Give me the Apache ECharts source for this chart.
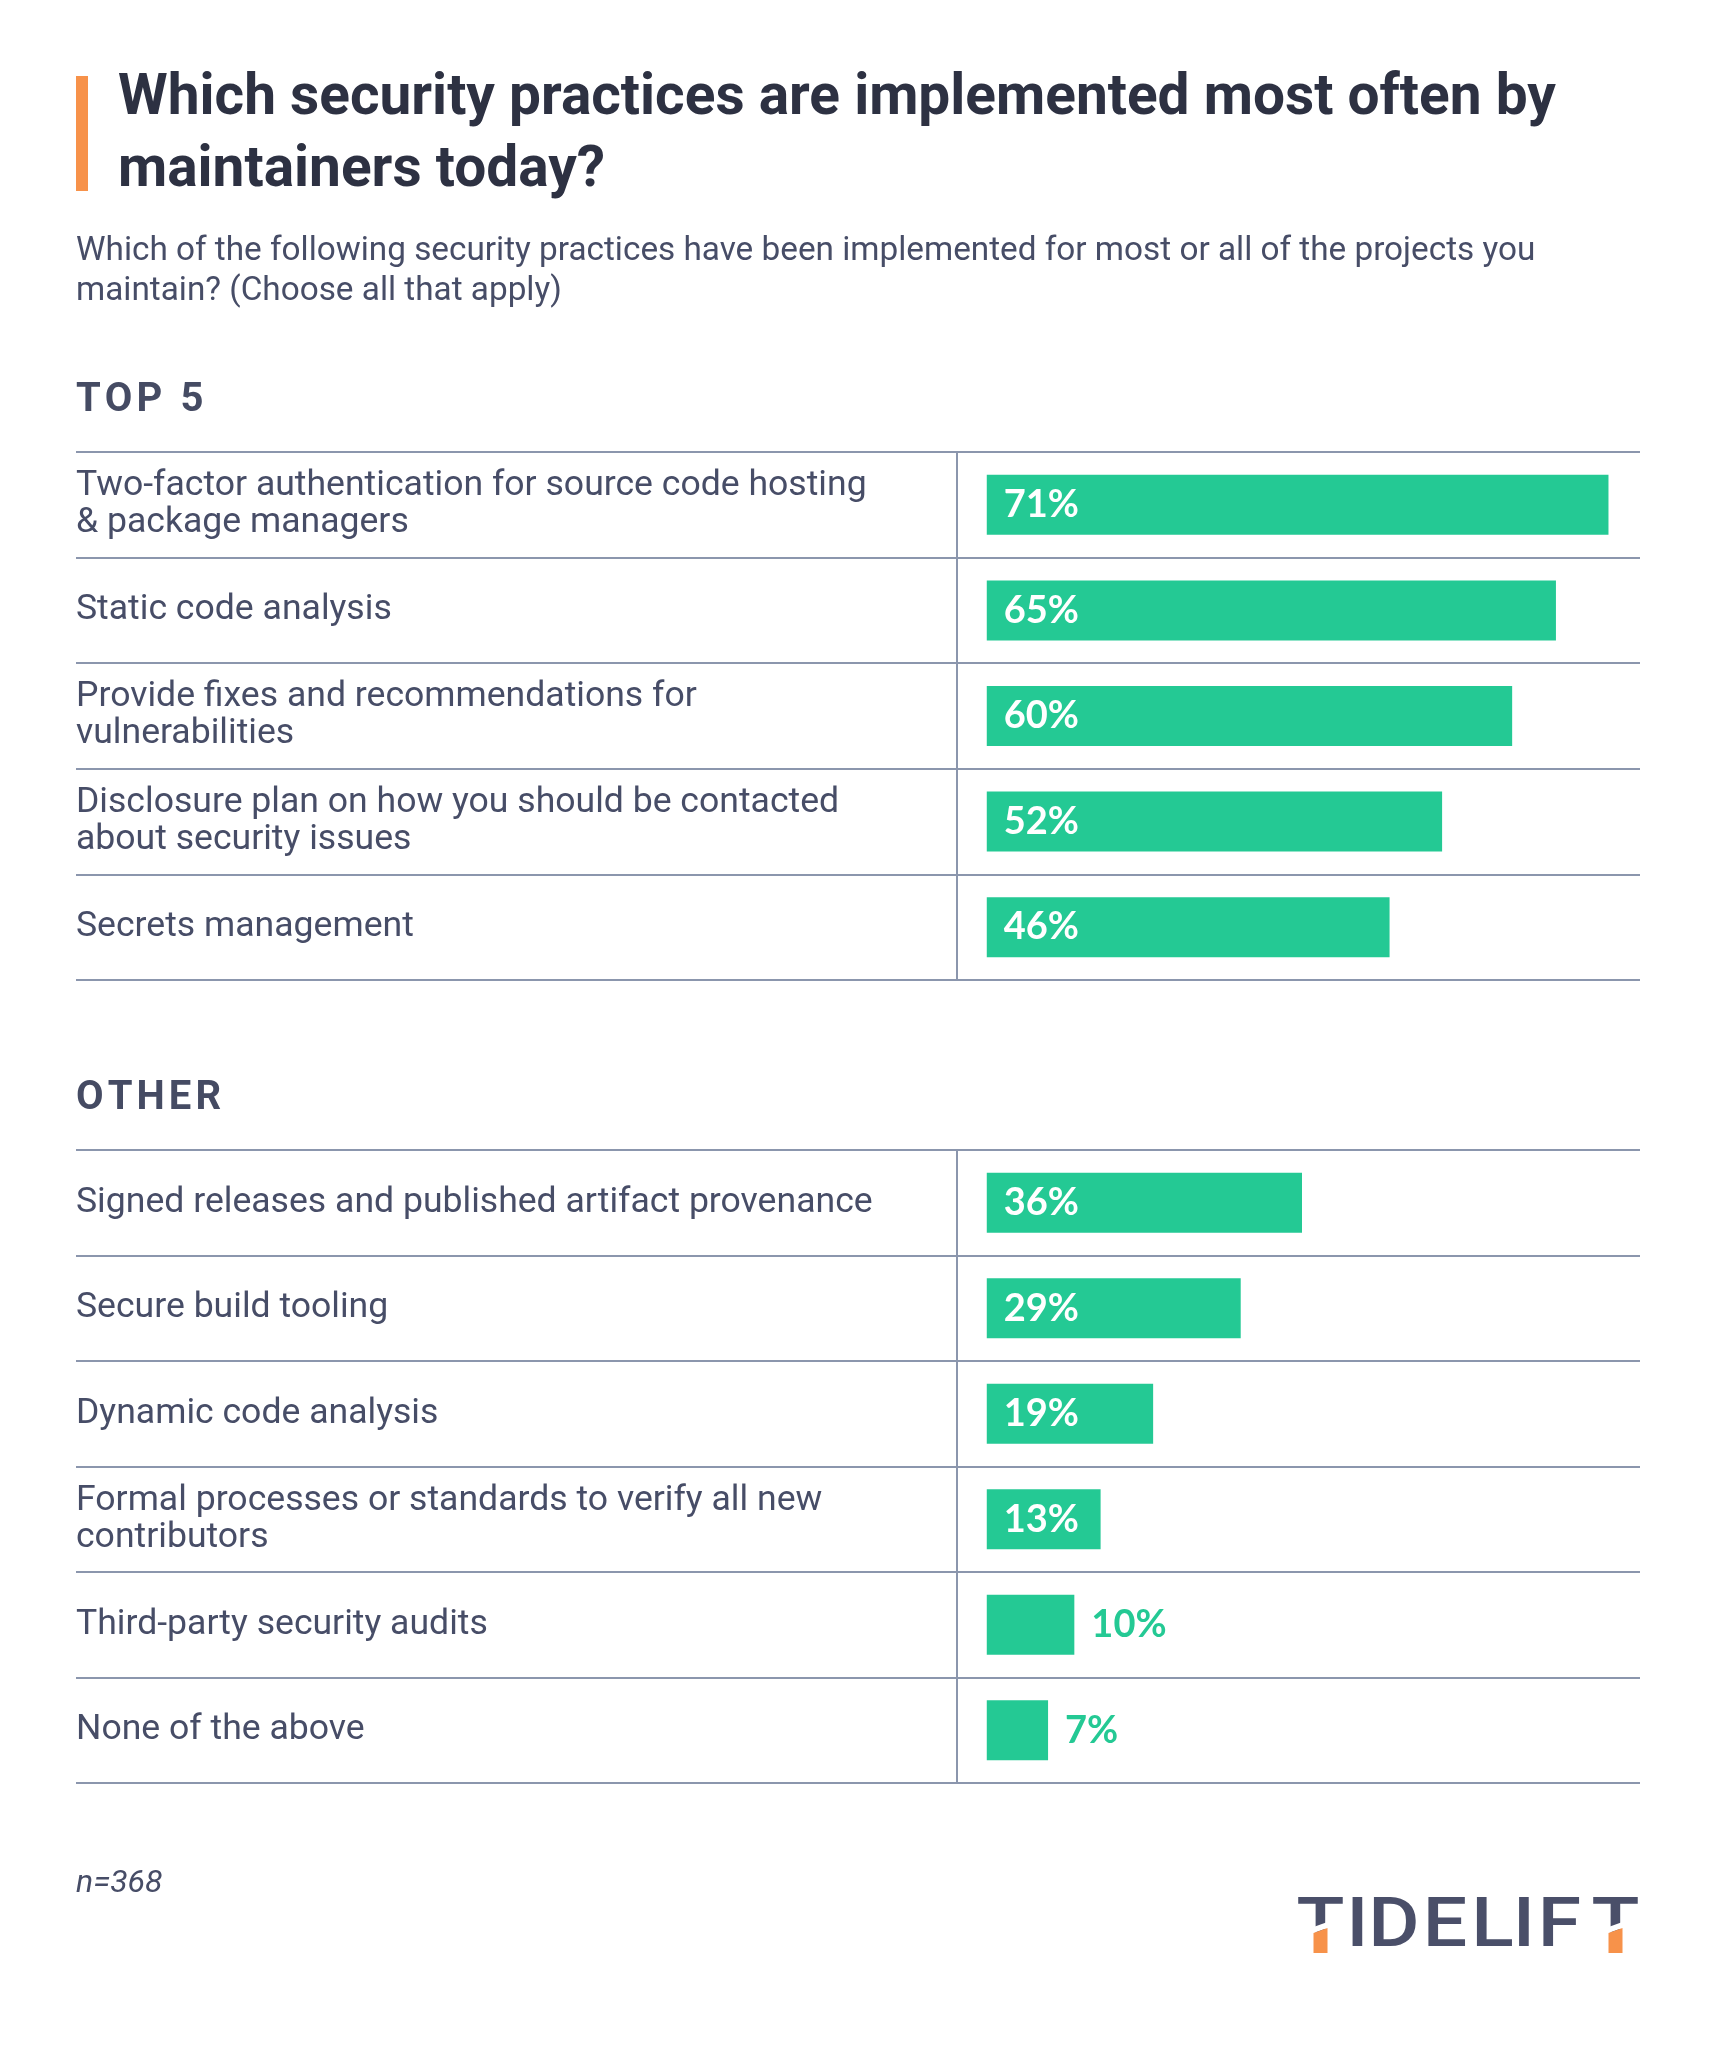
<!DOCTYPE html>
<html><head><meta charset="utf-8">
<script src="https://cdn.jsdelivr.net/npm/echarts@6.0.0/dist/echarts.min.js"></script>
<style>html,body{margin:0;padding:0;background:#fff}#c{width:1734px;height:2054px}</style>
</head><body><div id="c"></div>
<script>
const titleText = 'Which security practices are implemented most often by\nmaintainers today?';
const subtitleText = 'Which of the following security practices have been implemented for most or all of the projects you\nmaintain? (Choose all that apply)';
const topHeading = 'T\u200AO\u200AP\u200A \u200A5';
const otherHeading = 'O\u200AT\u200AH\u200AE\u200AR';
const noteText = 'n=368';
const logoLetters = ['T','I','D','E','L','I','F','T'];

const topCategories = [
  'Two-factor authentication for source code hosting\n& package managers',
  'Static code analysis',
  'Provide fixes and recommendations for\nvulnerabilities',
  'Disclosure plan on how you should be contacted\nabout security issues',
  'Secrets management'
];
const topValues = [71, 65, 60, 52, 46];

const otherCategories = [
  'Signed releases and published artifact provenance',
  'Secure build tooling',
  'Dynamic code analysis',
  'Formal processes or standards to verify all new\ncontributors',
  'Third-party security audits',
  'None of the above'
];
const otherValues = [36, 29, 19, 13, 10, 7];

const GREEN = '#24c994', LINE = '#8b96ad', LABEL = '#474d67', TITLE = '#2d3142',
      HEAD = '#454b63', ORANGE = '#f7924a', LOGO = '#4a4f69';
const FONT = 'Roboto';

function yAxisFor(gridIndex, cats) {
  return {
    type: 'category', gridIndex: gridIndex, data: cats, inverse: true,
    axisLine: { show: true, onZero: false, lineStyle: { color: LINE, width: 2 } },
    axisTick: { show: true, length: 881, lineStyle: { color: LINE, width: 2 } },
    splitLine: { show: true, lineStyle: { color: LINE, width: 2 } },
    axisLabel: { interval: 0, align: 'left', margin: 881, fontFamily: FONT, fontSize: 35.6,
                 lineHeight: 37, color: LABEL, padding: [4, 0, 0, 0] }
  };
}
function xAxisFor(gridIndex) {
  return { type: 'value', gridIndex: gridIndex, min: -3.4, max: 74.6, show: false };
}
function barData(vals) {
  return vals.map(v => ({
    value: v,
    label: v >= 12 ? { position: 'insideLeft', distance: 17, color: '#ffffff' }
                   : { position: 'right', distance: 17, color: GREEN }
  }));
}
function barSeries(idx, vals) {
  return {
    type: 'bar', xAxisIndex: idx, yAxisIndex: idx, data: barData(vals),
    barWidth: 60, itemStyle: { color: GREEN },
    label: { show: true, formatter: '{c}%', fontFamily: 'Lato', fontWeight: 'bold', fontSize: 38 },
    emphasis: { disabled: true }
  };
}

const logoCenters = [1320.5, 1357.5, 1394, 1445, 1492.5, 1524, 1559.5, 1615.5];
const logoGraphics = [];
logoLetters.forEach((ch, i) => {
  logoGraphics.push({ type: 'text', x: logoCenters[i], y: 1928.5, scaleX: 1.14,
    style: { text: ch, fill: LOGO, font: '500 69px Roboto', align: 'center', verticalAlign: 'middle' } });
});
[0, 7].forEach(i => {
  const cx = logoCenters[i];
  logoGraphics.push({ type: 'polygon', shape: { points: [[cx-7,1927],[cx+7,1922],[cx+7,1928],[cx-7,1933]] }, style: { fill: '#ffffff' } });
  logoGraphics.push({ type: 'polygon', shape: { points: [[cx-7,1933],[cx+7,1928],[cx+7,1953],[cx-7,1953]] }, style: { fill: ORANGE } });
});

const chart = echarts.init(document.getElementById('c'), null, { renderer: 'canvas' });
chart.setOption({
  backgroundColor: '#ffffff',
  animation: false,
  grid: [
    { left: 957, right: 94, top: 452, height: 528, outerBoundsMode: 'none' },
    { left: 957, right: 94, top: 1150, height: 633, outerBoundsMode: 'none' }
  ],
  xAxis: [xAxisFor(0), xAxisFor(1)],
  yAxis: [yAxisFor(0, topCategories), yAxisFor(1, otherCategories)],
  series: [barSeries(0, topValues), barSeries(1, otherValues)],
  graphic: [
    { type: 'rect', shape: { x: 76, y: 76, width: 12, height: 115 }, style: { fill: ORANGE } },
    { type: 'text', left: 118, top: 64, style: { text: titleText, fill: TITLE, font: 'bold 56.8px Roboto', lineHeight: 72 } },
    { type: 'text', left: 76, top: 232, style: { text: subtitleText, fill: LABEL, font: '33.3px Roboto', lineHeight: 40 } },
    { type: 'text', left: 76, top: 381, style: { text: topHeading, fill: HEAD, font: 'bold 40px Roboto', lineHeight: 40 } },
    { type: 'text', left: 76, top: 1079, style: { text: otherHeading, fill: HEAD, font: 'bold 40px Roboto', lineHeight: 40 } },
    { type: 'text', left: 76, top: 1868, style: { text: noteText, fill: LABEL, font: 'italic 32px Roboto', lineHeight: 32 } }
  ].concat(logoGraphics)
});
</script></body></html>
